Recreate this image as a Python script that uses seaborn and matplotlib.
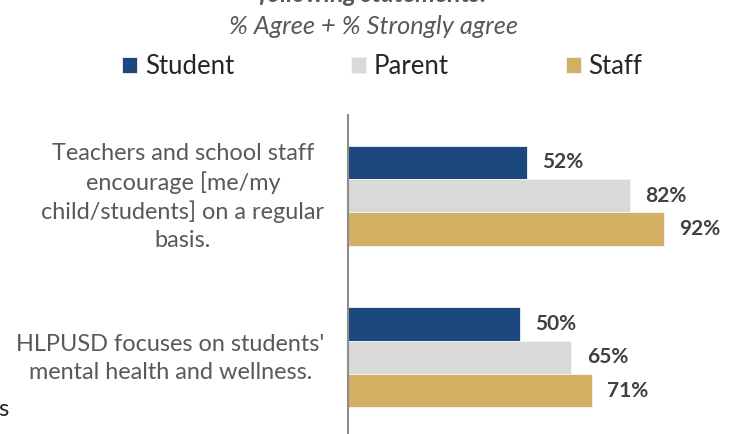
import numpy as np
import pandas as pd
import matplotlib.pyplot as plt
import matplotlib.transforms as mtransforms
import seaborn as sns

statements = [
    "Teachers and school staff\nencourage [me/my\nchild/students] on a regular\nbasis.",
    "HLPUSD focuses on students'\nmental health and wellness.",
]
groups = ["Student", "Parent", "Staff"]
student = [52, 50]
parent = [82, 65]
staff = [92, 71]
colors = {"Student": "#1B497E", "Parent": "#D9D9D9", "Staff": "#D3B064"}

rows = []
for i, s in enumerate(statements):
    for g, vals in zip(groups, [student, parent, staff]):
        rows.append({"statement": s, "group": g, "value": vals[i]})
df = pd.DataFrame(rows)

sns.set_style("white")
plt.rcParams["font.family"] = ["Lato", "DejaVu Sans"]

fig = plt.figure(figsize=(7.35, 4.34), dpi=100)
ax = fig.add_axes([348 / 735, -4 / 434, 387 / 735, 323 / 434])

sns.barplot(data=df, x="value", y="statement", hue="group", palette=colors,
            orient="h", width=0.62, saturation=1, edgecolor="#f4f4f4",
            linewidth=0.6, ax=ax)

# value labels sit a touch below the bar centre in the original
down = mtransforms.ScaledTranslation(0, -2 / 100, fig.dpi_scale_trans)
for cont in ax.containers:
    for t in ax.bar_label(cont, fmt="%d%%", padding=11, fontsize=15,
                          fontweight="bold", color="#404040"):
        t.set_transform(t.get_transform() + down)

ax.set_xlim(0, 112.6)
ax.set_ylim(1.5, -0.5)
ax.set_xlabel("")
ax.set_ylabel("")
ax.set_xticks([])
ax.tick_params(axis="y", length=0, pad=17, labelsize=16.9, labelcolor="#595959")
up = mtransforms.ScaledTranslation(0, 4 / 100, fig.dpi_scale_trans)
for t in ax.get_yticklabels():
    t.set_multialignment("center")
    t.set_linespacing(1.38)
    t.set_transform(t.get_transform() + up)
for side in ["top", "right", "bottom"]:
    ax.spines[side].set_visible(False)
ax.spines["left"].set_color("#8C8C8C")
ax.spines["left"].set_linewidth(1.5)

sns.move_legend(ax, "center", bbox_to_anchor=(0.52, 1 - 67 / 434),
                bbox_transform=fig.transFigure, ncol=3, frameon=False,
                title=None, fontsize=18.5, handlelength=0.58, handleheight=0.58,
                handletextpad=0.3, columnspacing=4.55)

fig.text(373 / 735, 1 - 2 / 434, "following statements:", ha="center",
         va="baseline", fontsize=18, style="italic", fontweight="bold",
         color="#595959")
fig.text(373 / 735, 1 - 27 / 434, "% Agree + % Strongly agree", ha="center",
         va="center", fontsize=18.3, style="italic", color="#595959")
fig.text(-0.002, 1 - 409 / 434, "s", ha="left", va="center", fontsize=17,
         color="#222222")

fig.savefig("out.png", dpi=100)
